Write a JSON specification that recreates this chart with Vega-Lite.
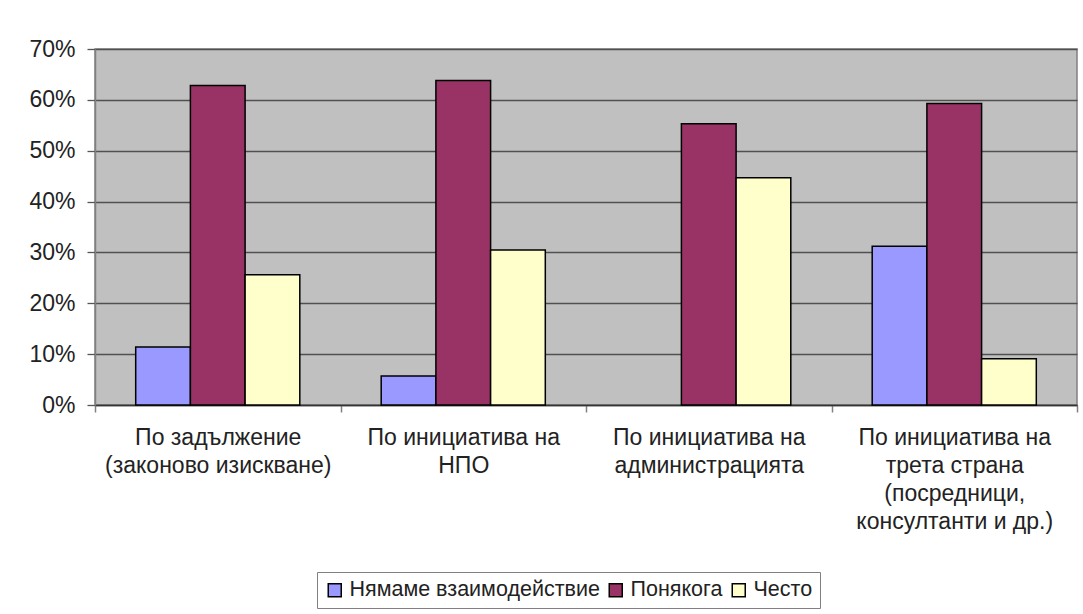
{
  "$schema": "https://vega.github.io/schema/vega-lite/v6.json",
  "width": 982,
  "height": 356,
  "autosize": {"type": "none"},
  "padding": {"left": 95, "top": 49, "right": 6, "bottom": 209},
  "background": "white",
  "data": {
    "values": [
      {"category": "По задължение\n(законово изискване)", "series": "Нямаме взаимодействие", "value": 0.114},
      {"category": "По задължение\n(законово изискване)", "series": "Понякога", "value": 0.628},
      {"category": "По задължение\n(законово изискване)", "series": "Често", "value": 0.256},
      {"category": "По инициатива на\nНПО", "series": "Нямаме взаимодействие", "value": 0.057},
      {"category": "По инициатива на\nНПО", "series": "Понякога", "value": 0.638},
      {"category": "По инициатива на\nНПО", "series": "Често", "value": 0.305},
      {"category": "По инициатива на\nадминистрацията", "series": "Нямаме взаимодействие", "value": 0},
      {"category": "По инициатива на\nадминистрацията", "series": "Понякога", "value": 0.553},
      {"category": "По инициатива на\nадминистрацията", "series": "Често", "value": 0.447},
      {"category": "По инициатива на\nтрета страна\n(посредници,\nконсултанти и др.)", "series": "Нямаме взаимодействие", "value": 0.312},
      {"category": "По инициатива на\nтрета страна\n(посредници,\nконсултанти и др.)", "series": "Понякога", "value": 0.593},
      {"category": "По инициатива на\nтрета страна\n(посредници,\nконсултанти и др.)", "series": "Често", "value": 0.091}
    ]
  },
  "mark": {"type": "bar", "strokeWidth": 1.5},
  "encoding": {
    "x": {
      "field": "category",
      "type": "nominal",
      "sort": null,
      "scale": {"paddingInner": 0, "paddingOuter": 0},
      "axis": {
        "title": null,
        "labelAngle": 0,
        "labelExpr": "split(datum.label, '\\n')",
        "labelFontSize": 23,
        "labelLineHeight": 28,
        "labelPadding": 14,
        "labelBaseline": "top",
        "labelLimit": 0,
        "labelColor": "#222222",
        "labelFont": "Liberation Sans",
        "tickBand": "extent",
        "tickSize": 7,
        "tickColor": "#808080",
        "tickWidth": 1.5,
        "domainColor": "#333333",
        "domainWidth": 1.5,
        "grid": false
      }
    },
    "xOffset": {
      "field": "series",
      "type": "nominal",
      "sort": ["Нямаме взаимодействие", "Понякога", "Често"],
      "scale": {"paddingInner": 0, "paddingOuter": 0.744}
    },
    "y": {
      "field": "value",
      "type": "quantitative",
      "scale": {"domain": [0, 0.7], "nice": false},
      "axis": {
        "title": null,
        "values": [0, 0.1, 0.2, 0.3, 0.4, 0.5, 0.6, 0.7],
        "format": ".0%",
        "labelFontSize": 23,
        "labelLimit": 0,
        "labelColor": "#222222",
        "labelFont": "Liberation Sans",
        "labelPadding": 12,
        "tickSize": 8,
        "tickColor": "#555555",
        "tickWidth": 1.3,
        "domainColor": "#808080",
        "domainWidth": 1.5,
        "grid": true,
        "gridColor": "#505050",
        "gridWidth": 1.3
      }
    },
    "stroke": {
      "condition": {"test": "datum.value == 0", "value": null},
      "value": "black"
    },
    "color": {
      "field": "series",
      "type": "nominal",
      "sort": ["Нямаме взаимодействие", "Понякога", "Често"],
      "scale": {
        "domain": ["Нямаме взаимодействие", "Понякога", "Често"],
        "range": ["#9999FF", "#993366", "#FFFFCC"]
      },
      "legend": {
        "title": null,
        "orient": "none",
        "legendX": 222,
        "legendY": 523,
        "direction": "horizontal",
        "symbolType": "square",
        "symbolSize": 169,
        "symbolStrokeColor": "black",
        "symbolStrokeWidth": 1.5,
        "symbolOpacity": 1,
        "labelFontSize": 21.5,
        "labelLimit": 0,
        "labelFont": "Liberation Sans",
        "labelColor": "#222222",
        "labelOffset": 4,
        "columnPadding": 5,
        "padding": 7,
        "strokeColor": "#808080",
        "fillColor": "white"
      }
    }
  },
  "config": {
    "view": {"fill": "#C0C0C0", "stroke": "#808080", "strokeWidth": 1.5},
    "font": "Liberation Sans"
  }
}
